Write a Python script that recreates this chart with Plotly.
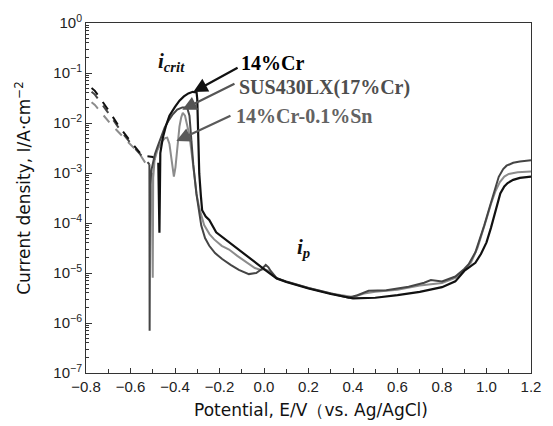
import plotly.graph_objects as go

# ---- Polarization curves: potential E (V vs. Ag/AgCl), current density I (A/cm^2) ----

# 14%Cr (black)
cr14_cath_E = [-0.775, -0.76, -0.706, -0.648, -0.59, -0.546, -0.50, -0.475]
cr14_cath_I = [0.05, 0.044, 0.020, 8.1e-3, 3.8e-3, 2.2e-3, 2.1e-3, 1.6e-3]
cr14_anod_E = [-0.475, -0.470, -0.466, -0.455, -0.44, -0.425, -0.40, -0.38, -0.36, -0.34,
               -0.32, -0.303, -0.300, -0.298, -0.2955, -0.291, -0.284, -0.278, -0.262,
               -0.246, -0.215, -0.157, -0.068, 0.0, 0.057, 0.10, 0.20, 0.30, 0.40, 0.50,
               0.60, 0.70, 0.80, 0.86, 0.90, 0.93, 0.95, 0.975, 1.00, 1.02, 1.035, 1.05,
               1.062, 1.08, 1.095, 1.12, 1.15, 1.20]
cr14_anod_I = [1.6e-3, 6.4e-5, 2.5e-3, 5e-3, 9e-3, 1.4e-2, 2.1e-2, 2.8e-2, 3.4e-2, 3.9e-2,
               4.2e-2, 4.1e-2, 3.0e-2, 1.2e-2, 3.8e-3, 9.8e-4, 3.6e-4, 1.8e-4, 1.35e-4,
               1.15e-4, 6.5e-5, 4.1e-5, 2.0e-5, 1.2e-5, 7.8e-6, 6.6e-6, 4.9e-6, 3.8e-6, 3.1e-6, 3.2e-6,
               3.6e-6, 4.2e-6, 5.2e-6, 6.8e-6, 1.1e-5, 1.4e-5, 1.6e-5, 2.4e-5, 4.1e-5, 8e-5, 1.4e-4, 2.6e-4,
               3.9e-4, 5.4e-4, 6.3e-4, 7.3e-4, 8.0e-4, 8.5e-4]

# SUS430LX (17%Cr) (dark gray)
sus_cath_E = [-0.775, -0.76, -0.70, -0.64, -0.58, -0.54, -0.515]
sus_cath_I = [0.042, 0.037, 0.016, 6.6e-3, 3.1e-3, 2.0e-3, 1.5e-3]
sus_anod_E = [-0.515, -0.514, -0.512, -0.505, -0.49, -0.479, -0.46, -0.447, -0.43, -0.412,
              -0.39, -0.367, -0.352, -0.345, -0.335, -0.327, -0.318, -0.304, -0.293, -0.282,
              -0.265, -0.246, -0.22, -0.188, -0.15, -0.113, -0.068, -0.035, -0.01, 0.008,
              0.02, 0.03, 0.057, 0.10, 0.20, 0.30, 0.38, 0.42, 0.47, 0.55, 0.65, 0.72, 0.75,
              0.80, 0.86, 0.90, 0.92, 0.95, 0.97, 0.99, 1.01, 1.03, 1.055, 1.075, 1.09, 1.12,
              1.15, 1.20]
sus_anod_I = [1.5e-3, 7e-7, 6e-4, 1.2e-3, 2.4e-3, 3.3e-3, 5.5e-3, 8e-3, 1.1e-2, 1.45e-2,
              1.85e-2, 2.05e-2, 2.05e-2, 2.0e-2, 1.4e-2, 5e-3, 1.5e-3, 3.9e-4, 1.7e-4, 8.9e-5,
              5.0e-5, 3.5e-5, 2.5e-5, 1.9e-5, 1.45e-5, 1.15e-5, 9.5e-6, 1.0e-5, 1.2e-5, 1.45e-5,
              1.3e-5, 1.1e-5, 7.9e-6, 6.8e-6, 5.0e-6, 3.9e-6, 3.2e-6, 3.6e-6, 4.4e-6, 4.5e-6, 5.3e-6, 6.4e-6, 7.2e-6,
              6.8e-6, 8.5e-6, 1.2e-5, 1.5e-5, 2.6e-5, 4.6e-5, 9e-5, 1.8e-4, 3.5e-4, 8.4e-4, 1.2e-3, 1.4e-3, 1.6e-3,
              1.7e-3, 1.8e-3]

# 14%Cr-0.1%Sn (light gray)
sn_cath_E = [-0.775, -0.76, -0.693, -0.617, -0.559, -0.523, -0.505]
sn_cath_I = [0.026, 0.023, 0.010, 4.4e-3, 2.4e-3, 1.35e-3, 1.0e-3]
sn_anod_E = [-0.505, -0.500, -0.498, -0.492, -0.48, -0.46, -0.445, -0.435, -0.425, -0.415,
             -0.405, -0.398, -0.39, -0.38, -0.372, -0.365, -0.355, -0.345, -0.336, -0.325,
             -0.313, -0.302, -0.291, -0.269, -0.245, -0.224, -0.19, -0.157, -0.12, -0.09,
             -0.041, -0.014, 0.0, 0.021, 0.057, 0.10, 0.20, 0.30, 0.40, 0.45, 0.50, 0.60,
             0.70, 0.80, 0.86, 0.90, 0.93, 0.96, 0.98, 1.00, 1.02, 1.04, 1.06, 1.08, 1.10,
             1.14, 1.20]
sn_anod_I = [1.0e-3, 8e-6, 8e-4, 1.8e-3, 2.8e-3, 4.2e-3, 5.0e-3, 5.1e-3, 3.8e-3, 1.8e-3,
             8.5e-4, 1.3e-3, 3.5e-3, 8.5e-3, 1.3e-2, 1.6e-2, 1.4e-2, 9e-3, 5.9e-3, 2.5e-3,
             9.8e-4, 3.5e-4, 2.0e-4, 9.1e-5, 6e-5, 4.7e-5, 3.5e-5, 2.95e-5, 2.2e-5, 1.8e-5,
             1.26e-5, 1.15e-5, 1.2e-5, 1.1e-5, 7.8e-6, 6.7e-6, 5.0e-6, 3.9e-6, 3.3e-6, 3.9e-6, 4.2e-6, 4.6e-6,
             5.6e-6, 6.3e-6, 8e-6, 1.15e-5, 1.6e-5, 3.2e-5, 6e-5, 1.2e-4, 2.4e-4, 4.3e-4, 6.6e-4, 8.5e-4, 9.6e-4,
             1.03e-3, 1.07e-3]

# axis ticks
x_ticks = [-0.8, -0.6, -0.4, -0.2, 0.0, 0.2, 0.4, 0.6, 0.8, 1.0, 1.2]
x_tick_text = ["\u22120.8", "\u22120.6", "\u22120.4", "\u22120.2", "0.0", "0.2", "0.4", "0.6", "0.8", "1.0", "1.2"]
y_exponents = [-7, -6, -5, -4, -3, -2, -1, 0]

C_CR14 = "#111111"
C_SUS = "#454545"
C_SN = "#8c8c8c"

fig = go.Figure()


def add_curve(E, I, color, dash, width):
    fig.add_trace(go.Scatter(x=E, y=I, mode="lines",
                             line=dict(color=color, width=width, dash=dash),
                             showlegend=False, hoverinfo="skip"))


add_curve(sn_cath_E, sn_cath_I, C_SN, "dash", 2)
add_curve(sus_cath_E, sus_cath_I, C_SUS, "dash", 2)
add_curve(cr14_cath_E, cr14_cath_I, C_CR14, "dash", 2)
add_curve(sn_anod_E, sn_anod_I, C_SN, "solid", 2)
add_curve(sus_anod_E, sus_anod_I, C_SUS, "solid", 2)
add_curve(cr14_anod_E, cr14_anod_I, C_CR14, "solid", 2.2)

y_tickvals = [10.0 ** e for e in y_exponents]
y_ticktext = ["10<sup>%s</sup>" % (str(e).replace("-", "\u2212")) for e in y_exponents]
y_minor = [k * 10.0 ** e for e in y_exponents[:-1] for k in range(2, 10)]

axis_font = dict(family="Liberation Sans, Arial, sans-serif", size=15, color="#222222")

fig.update_xaxes(range=[-0.8, 1.2], tickmode="array", tickvals=x_ticks, ticktext=x_tick_text,
                 ticks="inside", ticklen=5, tickcolor="#333333", tickwidth=1,
                 minor=dict(dtick=0.1, ticks="inside", ticklen=4, tickcolor="#333333", showgrid=False),
                 showline=True, linecolor="#333333", linewidth=1, mirror=True,
                 showgrid=False, zeroline=False, tickfont=axis_font)
fig.update_yaxes(type="log", range=[-7, 0], tickmode="array", tickvals=y_tickvals, ticktext=y_ticktext,
                 ticks="inside", ticklen=6, tickcolor="#333333", tickwidth=1,
                 minor=dict(tickmode="array", tickvals=y_minor, ticks="inside", ticklen=3,
                            tickcolor="#333333", showgrid=False),
                 showline=True, linecolor="#333333", linewidth=1, mirror=True,
                 showgrid=False, zeroline=False, tickfont=axis_font)

serif = "Liberation Serif, Times New Roman, serif"

annotations = [
    # series labels
    dict(x=0.344, y=0.887, text="<b>14%Cr</b>", font=dict(family=serif, size=20, color="#000000")),
    dict(x=0.339, y=0.815, text="<b>SUS430LX(17%Cr)</b>", font=dict(family=serif, size=20, color="#4e4e4e")),
    dict(x=0.333, y=0.733, text="<b>14%Cr-0.1%Sn</b>", font=dict(family=serif, size=20, color="#626262")),
    # current-density markers
    dict(x=0.158, y=0.888, text="<b><i>i</i></b><sub><b><i>crit</i></b></sub>",
         font=dict(family=serif, size=21, color="#111111")),
    dict(x=0.470, y=0.356, text="<b><i>i</i></b><sub><b><i>p</i></b></sub>",
         font=dict(family=serif, size=21, color="#111111")),
]
for a in annotations:
    a.update(xref="paper", yref="paper", xanchor="left", yanchor="middle", showarrow=False)
    fig.add_annotation(**a)

# arrows from the labels to the current peaks (data coordinates, log10 on y)
arrows = [
    (-0.318, -1.38, -0.112, -0.88, C_CR14),
    (-0.367, -1.735, -0.126, -1.20, "#555555"),
    (-0.394, -2.36, -0.144, -1.84, "#5a5a5a"),
]
for hx, hy, tx, ty, col in arrows:
    fig.add_annotation(x=hx, y=hy, ax=tx, ay=ty, xref="x", yref="y", axref="x", ayref="y",
                       text="", showarrow=True, arrowhead=2, arrowsize=1.3, arrowwidth=2.2,
                       arrowcolor=col)

# axis titles
fig.add_annotation(x=0.505, y=-0.105, xref="paper", yref="paper", showarrow=False,
                   xanchor="center", yanchor="middle",
                   text="Potential, E/V（vs. Ag/AgCl)",
                   font=dict(family="DejaVu Sans, sans-serif", size=17, color="#111111"))
fig.add_annotation(x=-0.143, y=0.53, xref="paper", yref="paper", showarrow=False,
                   xanchor="center", yanchor="middle", textangle=-90,
                   text="Current density, I/A·cm<sup>\u22122</sup>",
                   font=dict(family="DejaVu Sans, sans-serif", size=17, color="#111111"))

fig.update_layout(width=553, height=426, margin=dict(l=86, r=19, t=17, b=53),
                  paper_bgcolor="white", plot_bgcolor="white")

fig.write_html("out.html")
